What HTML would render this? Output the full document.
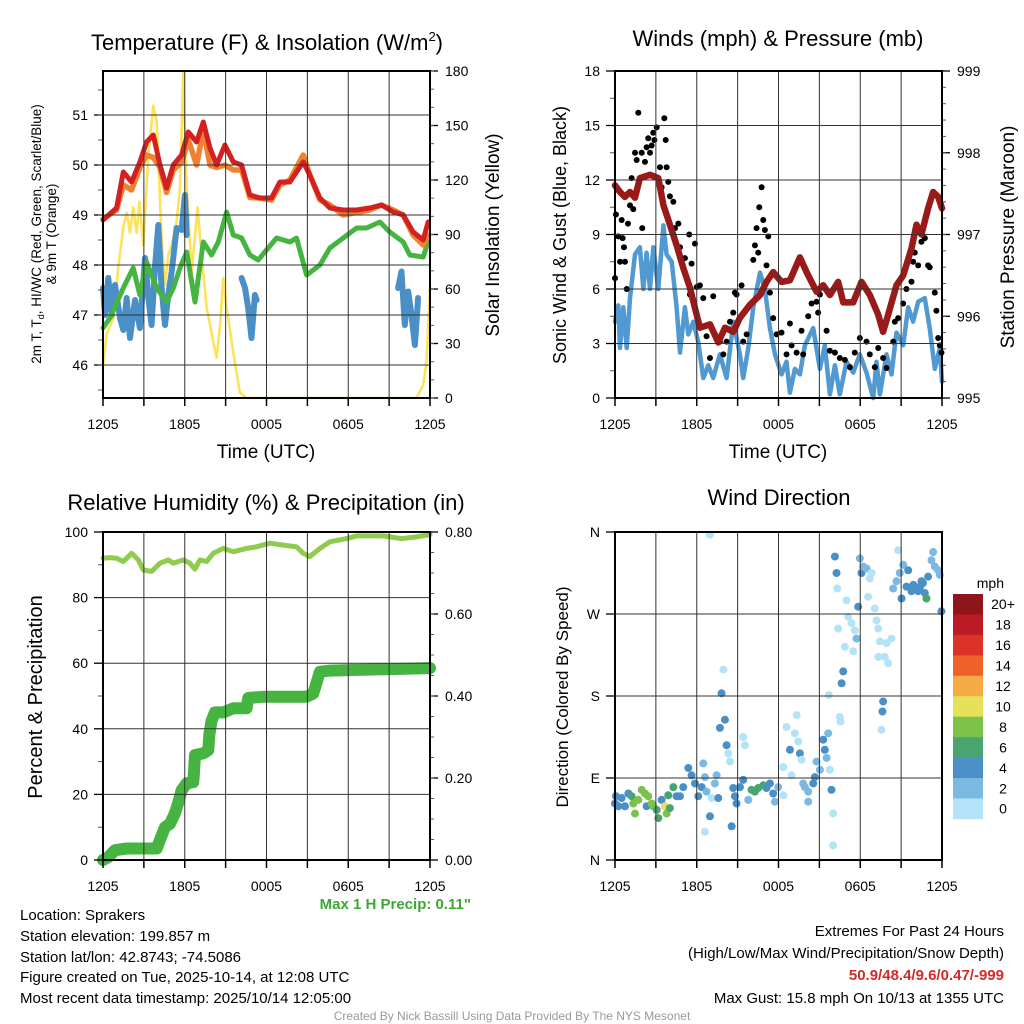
<!DOCTYPE html>
<html><head><meta charset="utf-8"><style>
html,body{margin:0;padding:0;background:#fff}
svg{display:block;font-family:"Liberation Sans",Arial,sans-serif}
</style></head><body>
<svg id="chart" width="1024" height="1024" viewBox="0 0 1024 1024" xmlns="http://www.w3.org/2000/svg">
<rect width="1024" height="1024" fill="#fff"/>
<g id="marks"></g>
<g font-size="22" text-anchor="middle" fill="#000">
<text x="267" y="50">Temperature (F) &amp; Insolation (W/m<tspan font-size="13" dy="-9">2</tspan><tspan dy="9">)</tspan></text>
<text x="778" y="46">Winds (mph) &amp; Pressure (mb)</text>
<text x="266" y="510">Relative Humidity (%) &amp; Precipitation (in)</text>
<text x="779" y="505">Wind Direction</text>
</g>
<g font-size="19" text-anchor="middle">
<text x="266" y="458">Time (UTC)</text>
<text x="778" y="458">Time (UTC)</text>
</g>
<g text-anchor="middle">
<text transform="translate(41,234) rotate(-90)" font-size="13.5">2m T, T<tspan font-size="9" dy="3">d</tspan><tspan dy="-3">, HI/WC (Red, Green, Scarlet/Blue)</tspan></text>
<text transform="translate(56,234) rotate(-90)" font-size="13.5">&amp; 9m T (Orange)</text>
<text transform="translate(499,235) rotate(-90)" font-size="19">Solar Insolation (Yellow)</text>
<text transform="translate(566,235) rotate(-90)" font-size="18">Sonic Wind &amp; Gust (Blue, Black)</text>
<text transform="translate(1014,237) rotate(-90)" font-size="19">Station Pressure (Maroon)</text>
<text transform="translate(42,697) rotate(-90)" font-size="20">Percent &amp; Precipitation</text>
<text transform="translate(568,697) rotate(-90)" font-size="17">Direction (Colored By Speed)</text>
</g>
<text x="1004" y="588" font-size="14" text-anchor="end">mph</text>
<g font-size="15">
<text x="20" y="920">Location: Sprakers</text>
<text x="20" y="941">Station elevation: 199.857 m</text>
<text x="20" y="962">Station lat/lon: 42.8743; -74.5086</text>
<text x="20" y="982">Figure created on Tue, 2025-10-14, at 12:08 UTC</text>
<text x="20" y="1003">Most recent data timestamp: 2025/10/14 12:05:00</text>
<text x="471" y="909" text-anchor="end" font-weight="bold" fill="#3aa832">Max 1 H Precip: 0.11"</text>
<text x="1004" y="936" text-anchor="end">Extremes For Past 24 Hours</text>
<text x="1004" y="958" text-anchor="end">(High/Low/Max Wind/Precipitation/Snow Depth)</text>
<text x="1004" y="980" text-anchor="end" font-weight="bold" fill="#d42a2a">50.9/48.4/9.6/0.47/-999</text>
<text x="1004" y="1003" text-anchor="end">Max Gust: 15.8 mph On 10/13 at 1355 UTC</text>
</g>
<text x="512" y="1020" font-size="12" text-anchor="middle" fill="#999">Created By Nick Bassill Using Data Provided By The NYS Mesonet</text>
</svg>
<script>
// ---------- data ----------
const xTickLabels=["1205","1805","0005","0605","1205"];
const tempHours=[0,1.0,1.49,2.1,2.71,3.2,3.69,4.18,4.67,5.16,5.77,6.26,6.87,7.36,7.85,8.34,8.95,9.56,10.17,10.78,11.52,12.37,12.98,13.72,14.69,15.18,15.92,16.65,17.63,18.61,19.58,20.44,21.3,22.03,22.76,23.5,23.86];
const tempValues=[48.9,49.14,49.86,49.66,50.06,50.46,50.6,50.0,49.54,50.0,50.2,50.66,50.46,50.86,50.34,50.0,50.4,50.06,50.0,49.4,49.34,49.34,49.66,49.66,50.06,49.8,49.34,49.14,49.1,49.1,49.14,49.2,49.06,49.0,48.66,48.5,48.86];
const temp9mValues=[48.92,49.1,49.6,49.5,49.95,50.2,50.15,49.95,49.45,49.9,50.05,50.5,50.0,50.7,50.0,49.95,50.0,49.9,49.9,49.35,49.34,49.3,49.6,49.7,50.2,49.8,49.3,49.2,49.0,49.05,49.1,49.2,49.1,49.0,48.6,48.4,48.6];
const dewHours=[0,0.51,1.49,2.22,2.71,3.2,3.94,4.67,5.16,5.65,6.14,6.75,7.36,7.97,8.46,9.07,9.56,10.17,10.78,11.39,12.0,12.74,13.72,14.2,14.94,15.92,16.65,17.63,18.61,19.34,20.32,21.05,22.03,22.52,23.5,23.86];
const dewValues=[46.74,46.94,47.54,47.94,47.4,48.06,47.54,47.26,47.54,47.94,48.26,47.26,48.46,48.2,48.46,49.06,48.6,48.54,48.2,48.1,48.3,48.54,48.46,48.54,47.8,48.0,48.34,48.54,48.74,48.74,48.86,48.66,48.46,48.2,48.16,48.46];
const wcHours=[0,0.15,0.39,0.64,0.88,1.25,1.49,1.74,1.98,2.35,2.71,3.08,3.33,3.57,3.81,4.06,4.3,4.55,4.79,5.04,5.4,5.77,6.01,6.14,6.5,10.17,10.42,10.66,10.9,11.15,11.27,12,21.66,21.91,22.15,22.4,22.64,22.89,23.13];
const wcValues=[47.54,47.0,47.74,47.0,47.6,46.94,46.7,47.34,46.54,47.3,46.74,48.14,47.34,46.8,47.94,48.8,47.54,46.8,47.4,47.87,48.74,48.7,49.4,48.6,null,47.74,47.54,47.14,46.54,47.4,47.3,null,47.54,47.87,46.8,47.47,47.0,46.4,47.34];
const solarHours=[0,0.27,0.76,1.12,1.49,1.74,1.98,2.22,2.47,2.67,2.96,3.33,3.69,3.94,4.3,4.55,4.79,5.04,5.4,5.65,5.89,6.14,6.5,6.94,7.24,7.6,8.09,8.34,8.58,8.83,9.07,9.56,10.05,10.54,23.0,23.5,23.74,24];
const solarValues=[18,35,44,72,94,102,91,105,91,108,84,134,161,152,88,62,79,84,97,116,179,116,69,105,79,50,31,22,39,66,50,25,3,0,0,7,20,62];
const presHours=[0,0.37,0.73,1.1,1.47,1.83,2.57,3.18,3.55,4.03,4.52,5.01,5.5,5.87,6.23,6.97,7.58,8.07,8.68,9.17,9.9,10.64,11.12,11.61,12.22,12.84,13.57,14.06,14.79,15.28,15.77,16.38,16.75,17.48,18.09,18.7,19.32,19.68,20.05,20.66,21.15,21.76,22.13,22.49,22.98,23.35,23.72,24];
const presValues=[997.6,997.52,997.46,997.52,997.45,997.69,997.73,997.69,997.36,997.12,996.87,996.59,996.35,996.1,995.86,995.9,995.68,995.86,995.81,995.98,996.14,996.26,996.42,996.54,996.42,996.44,996.72,996.54,996.3,996.38,996.26,996.42,996.17,996.17,996.42,996.26,996.02,995.81,996.02,996.38,996.5,996.83,997.12,997.0,997.32,997.52,997.46,997.32];
const windHours=[0,.24,.37,.61,.86,1.1,1.47,1.83,2.08,2.32,2.57,2.81,3.18,3.55,3.79,4.16,4.52,4.77,5.13,5.38,5.75,6.11,6.48,6.85,7.21,7.7,8.19,8.68,9.17,9.41,9.78,10.15,10.64,11.0,11.37,11.74,12.22,12.59,12.84,13.2,13.57,13.94,14.55,15.04,15.4,15.77,16.14,16.5,16.99,17.48,17.97,18.46,18.95,19.19,19.44,19.93,20.29,20.66,21.15,21.52,21.88,22.25,22.74,23.1,23.47,23.84,24];
const windValues=[4.2,5.1,2.75,5.0,2.75,5.5,7.9,8.3,6.0,8.0,6.0,8.3,6.0,9.5,7.9,7.5,5.0,2.5,5.0,3.5,4.2,3.1,1.1,1.8,1.1,2.4,1.1,4.2,2.4,1.1,2.75,5.0,6.9,6.0,3.85,2.4,1.3,2.0,0.3,1.6,1.3,2.9,3.85,1.6,2.9,0.2,1.8,0.2,2.0,1.4,2.4,1.4,0,2.0,0.2,2.4,1.3,3.6,2.9,5.0,4.2,5.3,5.5,3.85,1.6,2.75,0.9];
const gustHours=[0,.07,.24,.37,.49,.56,.66,.73,.86,.95,1.1,1.22,1.34,1.47,1.59,1.71,1.96,2.0,2.2,2.32,2.44,2.57,2.69,2.81,3.06,2.89,3.3,3.42,3.62,3.72,3.79,3.91,4.03,4.28,4.4,4.65,4.77,5.13,5.45,5.62,5.87,5.5,5.99,6.23,6.48,6.72,6.97,7.21,7.33,7.7,7.95,8.19,8.44,8.68,8.8,8.92,9.29,9.41,9.66,10.15,10.27,10.39,10.51,10.59,10.76,10.88,11.0,11.12,11.25,11.37,11.61,11.86,12.22,12.59,12.84,12.96,13.33,13.69,13.81,14.18,14.43,14.79,14.91,15.04,15.53,15.77,16.14,16.5,16.87,17.24,17.6,17.97,18.46,18.7,19.07,19.32,19.68,19.93,20.42,20.54,20.78,21.15,21.39,21.76,21.88,22.0,22.25,22.49,22.74,22.98,23.1,23.47,23.59,23.72,23.84,23.96];
const gustValues=[6.6,10.1,8.9,7.5,9.8,8.8,8.3,7.5,6.0,9.6,10.6,12.1,10.4,13.5,13.1,15.7,13.5,9.35,13.0,13.8,14.3,13.5,13.9,14.6,14.9,14.2,12.7,11.6,15.4,14.2,12.7,11.9,11.1,10.8,9.35,9.6,8.3,7.7,9.0,7.4,8.5,5.7,6.1,6.2,5.5,3.4,2.2,5.6,3.5,3.1,2.4,3.1,4.2,4.7,5.8,5.7,6.2,3.1,3.5,7.6,8.4,9.35,8.0,10.5,11.6,9.8,9.25,7.3,8.9,5.8,4.4,3.5,3.6,2.4,4.1,2.9,2.5,3.7,2.4,4.5,5.2,5.3,4.7,5.7,3.7,2.6,2.5,2.2,2.1,1.7,2.5,3.3,3.1,2.4,1.7,2.75,2.2,1.65,3.1,4.2,4.4,5.2,6.0,6.4,7.5,8.0,7.3,8.6,8.8,7.3,7.2,5.8,4.8,3.3,2.9,2.5];
const rhHours=[0,0.51,1.0,1.49,2.1,2.59,2.96,3.57,4.18,4.79,5.16,5.89,6.38,6.75,7.11,7.6,8.09,8.83,9.56,10.54,11.27,12.25,13.23,14.2,14.69,15.18,15.92,16.65,17.87,18.61,20.56,21.91,23.01,24];
const rhValues=[92,92.2,92,91,93.5,91.5,88.4,88,90.5,91.5,90.5,91.5,90.5,88.7,91.5,91,93.5,95,94,95,95.5,96.6,96,95.5,93.5,92.5,95,97,98,98.8,98.8,98,98.5,99.2];
const precipHours=[0,0.39,0.88,1.74,2.96,3.94,4.18,4.55,4.91,5.28,5.53,5.77,6.14,6.63,6.7,6.75,7.36,7.73,7.8,7.97,8.22,8.83,9.56,10.54,10.66,11.76,13.72,14.94,15.43,15.67,15.92,16.65,24];
const precipValues=[0,0.007,0.024,0.028,0.028,0.028,0.049,0.08,0.088,0.114,0.14,0.17,0.187,0.19,0.227,0.256,0.26,0.268,0.305,0.34,0.36,0.36,0.37,0.37,0.395,0.398,0.398,0.398,0.406,0.432,0.459,0.462,0.468];
const dirHours=[0,0.07,0.24,0.49,0.73,0.98,1.22,1.34,1.47,1.71,1.96,2.2,2.32,2.44,2.69,2.81,3.06,3.18,3.42,3.67,3.79,3.91,4.03,4.28,4.52,4.77,5.01,5.38,5.62,5.87,6.11,6.36,6.48,6.6,6.72,6.97,7.09,7.33,7.46,7.58,6.6,6.97,7.7,7.82,7.95,8.07,8.19,8.31,8.44,8.68,8.56,8.8,8.92,9.17,9.41,9.54,9.41,9.78,10.02,10.27,10.51,10.88,11.12,11.37,11.61,11.74,11.98,12.35,12.35,12.59,12.84,12.96,13.2,13.33,13.45,13.57,13.69,13.81,13.94,14.18,14.18,14.55,14.67,14.79,15.04,15.28,15.4,15.53,15.65,15.77,15.89,16.01,16.01,15.7,16.14,16.26,16.31,16.38,16.5,16.55,16.63,16.75,16.87,16.99,17.11,17.36,17.48,17.6,17.73,17.85,17.97,18.09,18.22,18.46,18.7,18.83,18.58,19.07,19.19,19.32,19.44,19.32,19.68,19.63,19.56,19.8,19.93,20.05,20.29,20.42,20.66,20.78,20.9,21.03,21.15,21.39,21.52,21.76,22.0,22.25,22.49,22.74,22.86,22.98,23.23,23.35,23.47,23.72,23.84,23.96,21.9,22.1,22.4,22.6];
const dirValues=[62,70,59,68,59,73,70,62,51,66,77,73,59,70,62,59,55,46,66,59,51,71,57,80,70,70,80,101,93,84,70,80,106,91,75,48,68,84,93,68,31,357,145,183,209,154,126,117,108,79,37,70,62,80,88,126,135,66,77,75,79,82,79,84,73,64,80,71,102,146,121,93,139,159,130,117,110,84,80,75,64,84,91,108,99,132,121,112,139,99,77,51,16,181,333,315,298,254,157,152,194,207,234,285,267,260,229,252,243,278,331,315,322,320,309,315,289,276,263,254,240,223,174,163,143,223,238,216,243,298,306,340,315,287,324,300,318,295,298,295,306,293,287,311,329,338,322,318,313,273,302,297,300,304];
const dirSpeeds=[4,4,4,4,4,4,6,8,8,8,8,8,4,8,8,8,6,6,4,10,8,6,6,6,4,4,4,4,4,4,4,4,2,2,2,4,0,2,2,4,0,0,4,4,0,4,4,0,0,4,4,4,4,4,4,0,0,2,6,6,6,6,4,4,4,2,2,0,0,0,4,0,0,0,0,4,0,2,2,2,2,4,4,2,2,4,4,2,2,0,4,0,0,0,4,4,0,0,0,0,4,4,0,0,0,0,0,0,2,4,2,4,2,2,0,0,0,0,0,0,0,0,4,4,0,0,0,0,0,2,2,0,2,4,2,4,4,4,6,4,4,4,6,4,2,2,2,2,2,4,4,4,4,4];
const speedBins=[0,2,4,6,8,10,12,14,16,18,20];
const binLabels=["0","2","4","6","8","10","12","14","16","18","20+"];
const binColors=["#b4e3f8","#7bb8e2","#4a8fc6","#48a56f","#7cc14a","#e6e15a","#f5aa45","#ee6229","#dc3227","#bb1b24","#8e1519"];
const tempTicks=[46,47,48,49,50,51];
const solarTicks=[0,30,60,90,120,150,180];
const windTicks=[0,3,6,9,12,15,18];
const presTicks=[995,996,997,998,999];
const rhTicks=[0,20,40,60,80,100];
const precipTicks=[0,0.2,0.4,0.6,0.8];
const dirTickVals=[0,90,180,270,360];
const dirTickLabels=["N","E","S","W","N"];

// ---------- helpers ----------
const NS="http://www.w3.org/2000/svg";
const root=document.getElementById('marks');
function mk(tag,attrs,parent){const e=document.createElementNS(NS,tag);for(const k in attrs)e.setAttribute(k,attrs[k]);(parent||root).appendChild(e);return e;}
function lin(d0,d1,r0,r1){return v=>r0+(v-d0)*(r1-r0)/(d1-d0);}
const P1={x0:103,x1:430,y0:71,y1:398}, P2={x0:615,x1:942,y0:71,y1:398}, P3={x0:103,x1:430,y0:532,y1:860}, P4={x0:615,x1:942,y0:532,y1:860};
function pathD(xs,ys,fx,fy){let d='',pen=false;for(let i=0;i<Math.min(xs.length,ys.length);i++){if(ys[i]===null){pen=false;continue;}d+=(pen?'L':'M')+fx(xs[i]).toFixed(1)+','+fy(ys[i]).toFixed(1);pen=true;}return d;}

function frame(P,name,yTicksL,fyL,labL,yTicksR,fyR,labR,minorL,minorR){
  const g=mk('g',{});
  
  
  const fx=lin(0,24,P.x0,P.x1);
  for(let h=3;h<24;h+=3){const l=mk('line',{x1:fx(h),x2:fx(h),y1:P.y0,y2:P.y1,stroke:'#333','stroke-width':1},g);
    
    }
  for(let h=0;h<=24;h+=3){mk('line',{x1:fx(h),x2:fx(h),y1:P.y1,y2:P.y1+8,stroke:'#000','stroke-width':1.5},g);}
  xTickLabels.forEach((t,i)=>{const tx=mk('text',{x:fx(i*6),y:P.y1+31,'font-size':14,'text-anchor':'middle'},g);tx.textContent=t;
    
    });
  yTicksL.forEach((v,i)=>{const y=fyL(v);
    if(y>P.y0+1&&y<P.y1-1){const l=mk('line',{x1:P.x0,x2:P.x1,y1:y,y2:y,stroke:'#333','stroke-width':1},g);
      
      }
    mk('line',{x1:P.x0-9,x2:P.x0,y1:y,y2:y,stroke:'#000','stroke-width':1.3},g);
    const tx=mk('text',{x:P.x0-15,y:y+5,'font-size':14,'text-anchor':'end'},g);tx.textContent=labL[i];
    
    });
  if(minorL)minorL.forEach(v=>{const y=fyL(v);if(y>=P.y0&&y<=P.y1)mk('line',{x1:P.x0-5,x2:P.x0,y1:y,y2:y,stroke:'#555','stroke-width':1},g);});
  if(yTicksR){yTicksR.forEach((v,i)=>{const y=fyR(v);
    mk('line',{x1:P.x1,x2:P.x1+8,y1:y,y2:y,stroke:'#000','stroke-width':1.3},g);
    const tx=mk('text',{x:P.x1+15,y:y+5,'font-size':14,'text-anchor':'start'},g);tx.textContent=labR[i];
    
    });
    if(minorR)minorR.forEach(v=>{const y=fyR(v);mk('line',{x1:P.x1,x2:P.x1+4,y1:y,y2:y,stroke:'#555','stroke-width':1},g);});}
  const r=mk('rect',{x:P.x0,y:P.y0,width:P.x1-P.x0,height:P.y1-P.y0,fill:'none',stroke:'#000','stroke-width':2});
  
  
}
function line(xs,ys,fx,fy,color,w,name){const p=mk('path',{d:pathD(xs,ys,fx,fy),fill:'none',stroke:color,'stroke-width':w,'stroke-linejoin':'round','stroke-linecap':'round'});
  
  return p;}

// ---------- panel 1 ----------
(function(){
  const fx=lin(0,24,P1.x0,P1.x1), fy=lin(51,46,115,365), fs=lin(0,180,P1.y1,P1.y0);
  const minorT=[];for(let v=45.5;v<52;v+=0.5)minorT.push(v);
  const minorS=[];for(let v=0;v<=180;v+=10)minorS.push(v);
  line(solarHours,solarValues,fx,fs,'#fde25a',2.6,'solar-line');
  line(wcHours,wcValues,fx,fy,'#4a8fc6',6,'windchill-line');
  line(dewHours,dewValues,fx,fy,'#46b441',5,'dewpoint-line');
  line(tempHours,temp9mValues,fx,fy,'#f0812e',5.5,'temp-9m-line');
  line(tempHours,tempValues,fx,fy,'#d42020',5,'temp-2m-line');
  frame(P1,'temp',tempTicks,fy,tempTicks.map(String),solarTicks,fs,solarTicks.map(String),minorT,minorS);
})();
// ---------- panel 2 ----------
(function(){
  const fx=lin(0,24,P2.x0,P2.x1), fy=lin(0,18,P2.y1,P2.y0), fp=lin(995,999,P2.y1,P2.y0);
  const minorW=[];for(let v=1.5;v<18;v+=3)minorW.push(v);
  const minorP=[];for(let v=995.2;v<999;v+=0.2)minorP.push(v);
  line(windHours,windValues,fx,fy,'#5199d1',4.5,'sonic-wind-line');
  const g=mk('g',{});
  
  
  for(let i=0;i<Math.min(gustHours.length,gustValues.length);i++){const c=mk('circle',{cx:fx(gustHours[i]),cy:fy(gustValues[i]),r:3,fill:'#000'},g);
    
    }
  line(presHours,presValues,fx,fp,'#9a1a1a',6.5,'pressure-line');
  frame(P2,'wind',windTicks,fy,windTicks.map(String),presTicks,fp,presTicks.map(String),minorW,minorP);
})();
// ---------- panel 3 ----------
(function(){
  const fx=lin(0,24,P3.x0,P3.x1), fy=lin(0,100,P3.y1,P3.y0), fq=lin(0,0.8,P3.y1,P3.y0);
  const minorR=[];for(let v=10;v<100;v+=20)minorR.push(v);
  const minorQ=[];for(let v=0.05;v<0.8;v+=0.05)minorQ.push(v);
  line(rhHours,rhValues,fx,fy,'#8fcb4c',5,'rh-line');
  line(precipHours,precipValues,fx,fq,'#46b441',12,'precip-line');
  frame(P3,'rh',rhTicks,fy,rhTicks.map(String),precipTicks,fq,precipTicks.map(v=>v.toFixed(2)),minorR,minorQ);
})();
// ---------- panel 4 ----------
(function(){
  const fx=lin(0,24,P4.x0,P4.x1), fy=lin(0,360,P4.y1,P4.y0);
  const g=mk('g',{});
  
  
  for(let i=0;i<Math.min(dirHours.length,dirValues.length,dirSpeeds.length);i++){
    let b=0;speedBins.forEach((s,k)=>{if(dirSpeeds[i]>=s)b=k;});
    const c=mk('circle',{cx:fx(dirHours[i]),cy:fy(dirValues[i]),r:4,fill:binColors[b]},g);
    
    }
  frame(P4,'wdir',dirTickVals,fy,dirTickLabels,null,null,null,null,null);
  const cb=mk('g',{});
  
  
  const top=594,bh=20.45;
  for(let k=0;k<binColors.length;k++){const idx=binColors.length-1-k;const y=top+k*bh;
    const r=mk('rect',{x:953,y:y,width:30,height:bh+0.3,fill:binColors[idx]},cb);
    
    
    const t=mk('text',{x:1003,y:y+bh/2+5,'font-size':14,'text-anchor':'middle'},cb);t.textContent=binLabels[idx];
    
    }
})();
</script>
</body></html>
